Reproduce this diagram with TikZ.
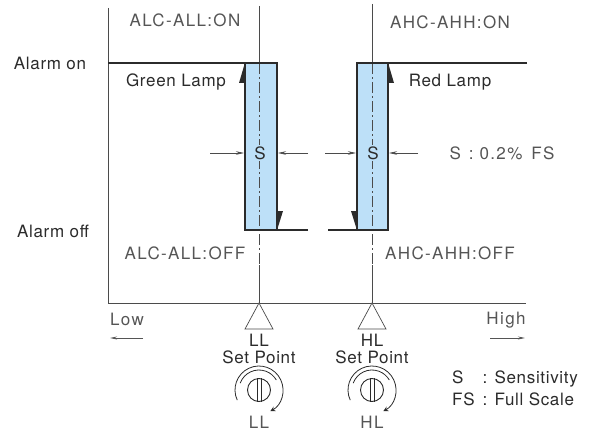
\documentclass[tikz,border=0pt]{standalone}
\usepackage{fontspec}
\setmainfont[LetterSpace=4]{TeX Gyre Heros}
\newfontfamily\ticfont[LetterSpace=8]{TeX Gyre Heros}
\usetikzlibrary{positioning,arrows.meta,calc}
\definecolor{lampfill}{HTML}{BDE0F8}
\definecolor{ink}{HTML}{2B2B2B}
\definecolor{ticgray}{HTML}{555555}

\begin{document}
\begin{tikzpicture}[
    x=1pt, y=1pt,
    >=Stealth,
    every node/.style={font=\fontsize{17}{19}\selectfont, text=ink, inner sep=1pt},
    ticlabel/.style={font=\ticfont\fontsize{17}{19}\selectfont, text=ticgray},
    axisline/.style={draw=ink!85, line width=0.7pt},
    lampline/.style={draw=ink, line width=2.4pt},
    centerline/.style={draw=ink!85, line width=0.7pt, dash pattern=on 11pt off 3pt on 2pt off 3pt},
    dimarrow/.style={-{Stealth[length=8pt, width=3.5pt]}, draw=ink!85, line width=0.6pt},
    dirarrow/.style={-{Stealth[length=7pt, width=3pt]}, draw=ticgray, line width=0.9pt},
    wedge/.style={fill=ink},
    knobline/.style={draw=ink, line width=0.8pt},
    sbox/.style={fill=lampfill, inner sep=1.5pt},
]
\useasboundingbox (0,0) rectangle (596,440);

% ---- Axes ----
\coordinate (origin) at (108,137);
\draw[axisline] (108,432) -- (origin) -- (526,137);

% ---- Hysteresis bands ----
\fill[lampfill] (245,377) rectangle (277,210);
\fill[lampfill] (357,377) rectangle (388,210);

% LL set line
\coordinate (llTop) at (259,434);
\coordinate (llBase) at (259,137);
\draw[axisline] (llTop) -- (259,377);
\draw[centerline] (259,377) -- (259,175);
\draw[axisline] (259,175) -- (llBase);

% HL set line
\coordinate (hlTop) at (372,436);
\coordinate (hlBase) at (372,137);
\draw[axisline] (hlTop) -- (372,377);
\draw[centerline] (372,377) -- (372,175);
\draw[axisline] (372,175) -- (hlBase);

% Lamp outputs
\draw[lampline] (108,377) -- (277,377) -- (277,210);
\draw[lampline] (308,210) -- (245,210) -- (245,377);
\draw[lampline] (527,377) -- (357,377) -- (357,210);
\draw[lampline] (328,210) -- (388,210) -- (388,377);

% Direction wedges
\fill[wedge] (244,374) -- (244,357) -- (239,357) -- cycle;
\fill[wedge] (278,213) -- (278,229) -- (283,229) -- cycle;
\fill[wedge] (389,374) -- (389,357) -- (394,357) -- cycle;
\fill[wedge] (356,213) -- (356,229) -- (351,229) -- cycle;

% Sensitivity marks
\node[sbox] (sLL) at (260,287) {S};
\node[sbox] (sHL) at (373,287) {S};
\coordinate (llDimL) at (210,287);
\coordinate (llDimR) at (308,287);
\coordinate (hlDimL) at (325,287);
\coordinate (hlDimR) at (418,287);
\draw[dimarrow] (llDimL) -- (244,287);
\draw[dimarrow] (llDimR) -- (278,287);
\draw[dimarrow] (hlDimL) -- (356,287);
\draw[dimarrow] (hlDimR) -- (389,287);
\node[ticlabel] (sNote) at (502,287) {S\hspace{8pt}:\hspace{6pt}0.2\%\hspace{9pt}FS};

% ---- Labels ----
\node (alarmOn) at (50,377) {Alarm on};
\node (alarmOff) at (53,209) {Alarm off};
\node (greenLamp) at (176,358) {Green Lamp};
\node (redLamp) at (450,358) {Red Lamp};
\node[ticlabel] (alcOn) at (185,420) {ALC-ALL:ON};
\node[ticlabel] (ahcOn) at (450,418) {AHC-AHH:ON};
\node[ticlabel] (alcOff) at (185,187) {ALC-ALL:OFF};
\node[ticlabel] (ahcOff) at (450,187) {AHC-AHH:OFF};

% Low / High
\node[ticlabel] (low) at (127,121) {Low};
\coordinate (lowTail) at (143,102);
\coordinate (lowHead) at (110,102);
\draw[dirarrow] (lowTail) -- (lowHead);
\node[ticlabel] (high) at (506,120) {High};
\coordinate (highTail) at (490,102);
\coordinate (highHead) at (525,102);
\draw[dirarrow] (highTail) -- (highHead);

% ---- LL set point ----
\draw[axisline, fill=white] (llBase) -- (245,111) -- (273,111) -- cycle;
\node (llMark) at (259,100) {LL};
\node[below=2pt of llMark] (llSet) {Set Point};
\node[circle, knobline, line width=0.9pt, minimum size=23pt, inner sep=0pt] (llKnob) at (259,50) {};
\draw[knobline] ([xshift=-2pt]llKnob.north) -- ([xshift=-2pt]llKnob.south);
\draw[knobline] ([xshift=2pt]llKnob.north) -- ([xshift=2pt]llKnob.south);
\draw[knobline, -{Stealth[length=5pt, width=5pt, open]}] ($(llKnob)+(205:24)$) arc[start angle=205, end angle=-62, radius=24];
\draw[knobline] ($(llKnob)+(160:20)$) arc[start angle=160, end angle=30, radius=20];
\node[ticlabel] (llName) at (259,18) {LL};

% ---- HL set point ----
\draw[axisline, fill=white] (hlBase) -- (358,111) -- (386,111) -- cycle;
\node (hlMark) at (372,100) {HL};
\node[below=2pt of hlMark] (hlSet) {Set Point};
\node[circle, knobline, line width=0.9pt, minimum size=23pt, inner sep=0pt] (hlKnob) at (372,50) {};
\draw[knobline] ([xshift=-2pt]hlKnob.north) -- ([xshift=-2pt]hlKnob.south);
\draw[knobline] ([xshift=2pt]hlKnob.north) -- ([xshift=2pt]hlKnob.south);
\draw[knobline, -{Stealth[length=5pt, width=5pt, open]}] ($(hlKnob)+(205:24)$) arc[start angle=205, end angle=-62, radius=24];
\draw[knobline] ($(hlKnob)+(160:20)$) arc[start angle=160, end angle=30, radius=20];
\node[ticlabel] (hlName) at (372,18) {HL};

% ---- Legend ----
\node[anchor=west] (legend) at (451,49) {\begin{tabular}{@{}l@{\hspace{8pt}}l@{}}S & : Sensitivity\\[3pt] FS & : Full Scale\end{tabular}};

\end{tikzpicture}
\end{document}
